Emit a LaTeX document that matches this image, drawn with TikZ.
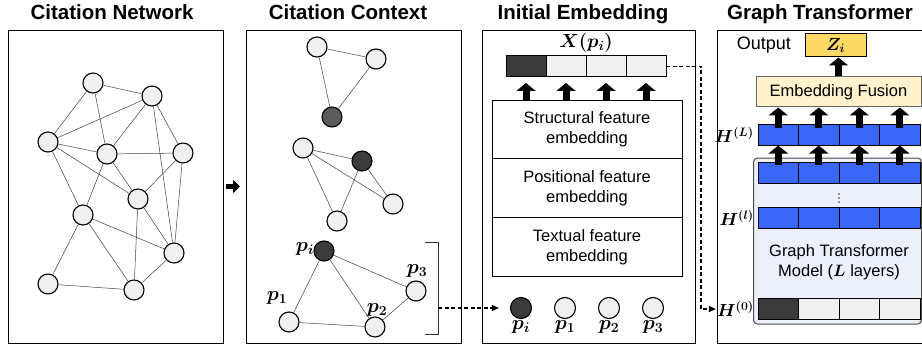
\RequirePackage{fix-cm}
\documentclass[tikz,border=0pt]{standalone}
\usepackage{amsmath,bm}
\usepackage{fontspec}
\setmainfont{Liberation Sans}
\usetikzlibrary{arrows.meta,positioning}
\definecolor{nodelight}{HTML}{F0F0F0}
\definecolor{nodedark}{HTML}{3B3B3B}
\definecolor{nodemid}{HTML}{5A5A5A}
\definecolor{layerblue}{HTML}{3A66F5}
\definecolor{modelbg}{HTML}{ECF0FB}
\definecolor{fusionbg}{HTML}{FFF2CC}
\definecolor{outgold}{HTML}{FFD966}

\begin{document}
\begin{tikzpicture}[x=1pt,y=-1pt,
 paper/.style={circle,draw,line width=1.1pt,fill=nodelight,minimum size=20pt,inner sep=0pt},
 link/.style={black!75,line width=0.5pt},
 panel/.style={draw,line width=0.9pt,minimum width=215pt,minimum height=313pt,inner sep=0pt,outer sep=0pt},
 title/.style={font=\fontsize{20.5}{24}\selectfont\bfseries,anchor=base},
 txt/.style={font=\fontsize{16.5}{20}\selectfont},
 lbl/.style={font=\fontsize{17.5}{20}\selectfont,inner sep=1pt},
 plbl/.style={font=\fontsize{20}{22}\selectfont,inner sep=1pt},
 cell/.style={draw,line width=1pt,minimum width=40.5pt,minimum height=21pt,inner sep=0pt,outer sep=0pt},
 feat/.style={draw,line width=0.8pt,minimum width=190pt,minimum height=58.7pt,align=center,txt,inner sep=0pt,outer sep=0pt},
 uparrow/.style={-{Triangle[length=8pt,width=19pt]},line width=7pt},
 bigarrow/.style={-{Triangle[length=7pt,width=13pt]},line width=5pt},
 hint/.style={-{Triangle[length=7pt,width=6pt]},line width=1.1pt,dash pattern=on 4pt off 2.5pt}]
\useasboundingbox (0,0) rectangle (922,345);
\clip (0,0) rectangle (922,345);
% panels and titles
\node[panel] (net) at (115.5,186.5) {};
\node[panel] (ctx) at (353.5,186.5) {};
\node[panel,minimum width=213pt] (emb) at (588.5,186.5) {};
\node[panel,minimum width=220pt] (gt) at (827,186.5) {};
\node[title] (t1) at (112,20) {Citation Network};
\node[title] (t2) at (348,20) {Citation Context};
\node[title] (t3) at (583,20) {Initial Embedding};
\node[title] (t4) at (820,20) {Graph Transformer};
% citation network
\foreach \n/\x/\y in {1/93/83,2/152/96,3/48/142,4/107/154,5/183/153,
 6/138/199,7/83/215,8/174/253,9/48/284,10/134/290} {
 \node[paper] (n\n) at (\x,\y) {};
}
\foreach \a/\b in {1/2,1/3,1/4,2/3,2/4,2/5,2/8,3/4,3/6,3/7,4/5,4/6,4/7,
 5/6,5/8,6/8,6/10,7/8,7/9,7/10,8/10,9/10} {
 \draw[link] (n\a) -- (n\b);
}
\draw[bigarrow] ([xshift=3pt]net.east) -- ([xshift=-6pt]ctx.west);
% citation context
\foreach \n/\x/\y/\c in {1/317/47/nodelight,2/376/59/nodelight,3/332/117/nodemid,
 4/303/148/nodelight,5/362/161/nodedark,6/393/204/nodelight,7/337/221/nodelight,
 8/324/251/nodedark,9/416/291/nodelight,10/289/322/nodelight,11/375/327/nodelight} {
 \node[paper,fill=\c] (s\n) at (\x,\y) {};
}
\foreach \a/\b in {1/2,1/3,2/3,4/5,4/6,4/7,5/6,5/7,8/9,8/10,8/11,10/11,9/11} {
 \draw[link] (s\a) -- (s\b);
}
\node[plbl] (lpi) at (305,249) {$\bm{p}_{\bm{i}}$};
\node[plbl] (lp3) at (417,271) {$\bm{p}_{\bm{3}}$};
\node[plbl] (lp1) at (277,298) {$\bm{p}_{\bm{1}}$};
\node[plbl] (lp2) at (377,310) {$\bm{p}_{\bm{2}}$};
\draw[line width=0.8pt,black!80] (425,242) -- (438,242) -- (438,334) -- (425,334);
\coordinate (brk) at (438,308);
% initial embedding
\foreach \i/\x/\c in {1/526/nodedark,2/566/nodelight,3/606/nodelight,4/646/nodelight} {
 \node[cell,minimum width=40pt,fill=\c] (x\i) at (\x,66.5) {};
}
\node[plbl,font=\fontsize{19}{22}\selectfont] (xlbl) at (586,43) {$\bm{X(p_i)}$};
\node[feat] (sfe) at (587,129.5) {Structural feature\\embedding};
\node[feat,below=0pt of sfe] (pfe) {Positional feature\\embedding};
\node[feat,below=0pt of pfe] (tfe) {Textual feature\\embedding};
\foreach \i in {1,...,4} {
 \draw[uparrow] (x\i.south |- sfe.north) -- ([yshift=-6pt]x\i.south);
}
\foreach \i/\x/\c/\idx in {0/521/nodedark/i,1/565/nodelight/1,2/609/nodelight/2,3/653/nodelight/3} {
 \node[paper,fill=\c,minimum size=21pt] (e\i) at (\x,308) {};
 \node[plbl,below=0pt of e\i] (el\i) {$\bm{p}_{\bm{\idx}}$};
}
\draw[hint] (brk) -- ([xshift=-11pt]e0.west);
% graph transformer
\node[draw,line width=1pt,fill=outgold,minimum width=61pt,minimum height=23pt,lbl] (z) at (835.5,45.5) {$\bm{Z}_{\bm{i}}$};
\node[font=\fontsize{18}{20}\selectfont,left=10pt of z] (outlbl) {Output};
\node[draw=black!60,line width=1pt,fill=fusionbg,minimum width=165pt,minimum height=30pt,txt] (fuse) at (838.5,92) {Embedding Fusion};
\draw[uparrow] (fuse.north) -- (fuse.north |- z.south);
\node[draw=black!70,line width=1pt,fill=modelbg,rounded corners=4pt,minimum width=168pt,minimum height=166pt] (gtm) at (837.5,241) {};
\foreach \r/\y in {L/135,t/172.5,l/218} {
 \foreach \i/\x in {1/778.25,2/818.75,3/859.25,4/899.75} {
  \node[cell,fill=layerblue] (h\r\i) at (\x,\y) {};
 }
}
\foreach \i/\x/\c in {1/778.25/nodedark,2/818.75/nodelight,3/859.25/nodelight,4/899.75/nodelight} {
 \node[cell,fill=\c] (h0\i) at (\x,309) {};
}
\foreach \k in {-4,0,4} {
 \fill[black!80] (839,{198+\k}) circle (0.8pt);
}
\node[txt,align=center] (gtxt) at (839,262) {Graph Transformer\\Model ($\bm{L}$ layers)};
\node[lbl,left=3pt of hL1] (lhL) {$\bm{H^{(L)}}$};
\node[lbl,left=3pt of hl1] (lhl) {$\bm{H^{(l)}}$};
\node[lbl,left=3pt of h01] (lh0) {$\bm{H^{(0)}}$};
\foreach \i in {1,...,4} {
 \draw[uparrow] ([yshift=-3pt]hL\i.north) -- (hL\i.north |- fuse.south);
 \draw[uparrow] ([yshift=-3pt]ht\i.north) -- (ht\i.north |- hL\i.south);
}
\draw[hint] (x4.east) -- ++(35,0) |- (lh0.west);
\end{tikzpicture}
\end{document}
